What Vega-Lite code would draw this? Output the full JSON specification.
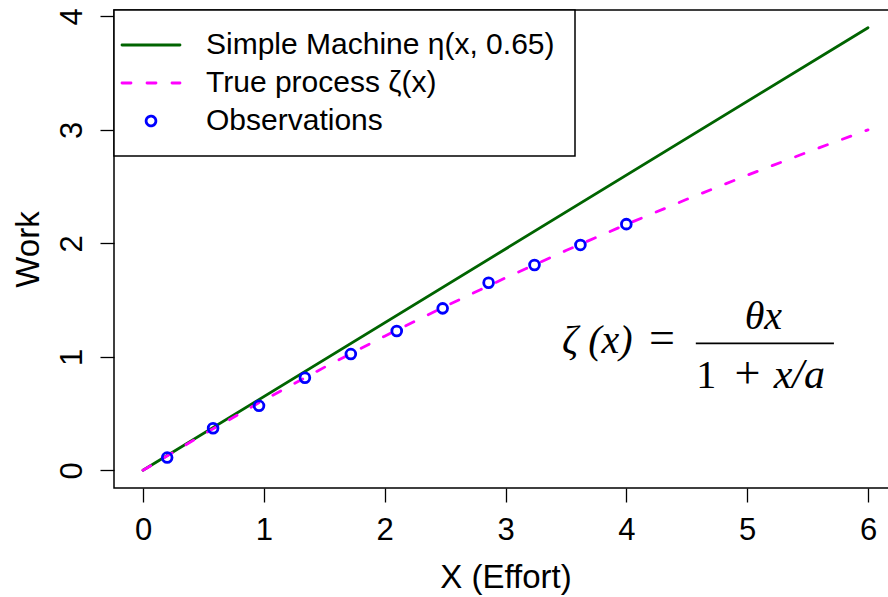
{
  "$schema": "https://vega.github.io/schema/vega-lite/v6.json",
  "width": 783,
  "height": 478,
  "autosize": "none",
  "padding": {"left": 114, "top": 10, "right": 0, "bottom": 109},
  "background": "white",
  "datasets": {
    "eta": [
      {"x": 0, "y": 0, "series": "Simple Machine η(x, 0.65)"},
      {"x": 6, "y": 3.9, "series": "Simple Machine η(x, 0.65)"}
    ],
    "zeta": [
      {"x": 0, "y": 0, "series": "True process ζ(x)"},
      {"x": 0.5, "y": 0.3171, "series": "True process ζ(x)"},
      {"x": 1, "y": 0.619, "series": "True process ζ(x)"},
      {"x": 1.5, "y": 0.907, "series": "True process ζ(x)"},
      {"x": 2, "y": 1.1818, "series": "True process ζ(x)"},
      {"x": 2.5, "y": 1.4444, "series": "True process ζ(x)"},
      {"x": 3, "y": 1.6957, "series": "True process ζ(x)"},
      {"x": 3.5, "y": 1.9362, "series": "True process ζ(x)"},
      {"x": 4, "y": 2.1667, "series": "True process ζ(x)"},
      {"x": 4.5, "y": 2.3878, "series": "True process ζ(x)"},
      {"x": 5, "y": 2.6, "series": "True process ζ(x)"},
      {"x": 5.5, "y": 2.8039, "series": "True process ζ(x)"},
      {"x": 6, "y": 3.0, "series": "True process ζ(x)"}
    ],
    "obs": [
      {"x": 0.2, "y": 0.112, "series": "Observations"},
      {"x": 0.58, "y": 0.371, "series": "Observations"},
      {"x": 0.96, "y": 0.568, "series": "Observations"},
      {"x": 1.34, "y": 0.815, "series": "Observations"},
      {"x": 1.72, "y": 1.024, "series": "Observations"},
      {"x": 2.1, "y": 1.227, "series": "Observations"},
      {"x": 2.48, "y": 1.427, "series": "Observations"},
      {"x": 2.86, "y": 1.653, "series": "Observations"},
      {"x": 3.24, "y": 1.809, "series": "Observations"},
      {"x": 3.62, "y": 1.986, "series": "Observations"},
      {"x": 4.0, "y": 2.169, "series": "Observations"}
    ],
    "one": [{}]
  },
  "layer": [
    {
      "data": {"name": "eta"},
      "mark": {"type": "line", "strokeWidth": 2.8, "strokeCap": "round"},
      "encoding": {
        "x": {"field": "x", "type": "quantitative",
              "scale": {"domain": [-0.24, 6.24], "nice": false, "zero": false},
              "axis": {"title": "X (Effort)", "values": [0, 1, 2, 3, 4, 5, 6], "format": "d", "titleY": 89, "titleBaseline": "middle"}},
        "y": {"field": "y", "type": "quantitative",
              "scale": {"domain": [-0.156, 4.056], "nice": false, "zero": false},
              "axis": {"title": "Work", "values": [0, 1, 2, 3, 4], "format": "d", "labelAngle": -90, "labelAlign": "center", "labelBaseline": "alphabetic", "labelPadding": 19, "titleX": -86, "titleBaseline": "middle", "titleAngle": -90}},
        "color": {"field": "series", "type": "nominal",
                  "scale": {"domain": ["Simple Machine η(x, 0.65)", "True process ζ(x)", "Observations"], "range": ["#006400", "#FF00FF", "#0000FF"]},
                  "legend": {
                    "title": null,
                    "orient": "none", "legendX": 0, "legendY": 0,
                    "padding": 20, "symbolOffset": 2, "labelOffset": 40, "rowPadding": 8,
                    "symbolSize": 400, "symbolStrokeWidth": 2.5,
                    "labelFontSize": 30, "labelLimit": 800, "labelFont": "Liberation Sans", "labelColor": "black",
                    "strokeColor": "black", "fillColor": "white",
                    "encode": {
                      "symbols": {"update": {
                        "shape": {"signal": "datum.value === 'Observations' ? 'circle' : 'M -2.9 0 L 2.9 0'"},
                        "size": {"signal": "datum.value === 'Observations' ? 95 : 400"},
                        "strokeDash": {"signal": "datum.value === 'True process ζ(x)' ? [9, 16] : [1, 0]"},
                        "strokeCap": {"value": "round"},
                        "fill": {"value": "transparent"},
                        "stroke": {"scale": "color", "field": "value"},
                        "strokeWidth": {"value": 2.8}
                      }}
                    }
                  }}
      }
    },
    {
      "data": {"name": "zeta"},
      "mark": {"type": "line", "strokeWidth": 2.8, "strokeDash": [9, 16], "strokeCap": "round"},
      "encoding": {
        "x": {"field": "x", "type": "quantitative"},
        "y": {"field": "y", "type": "quantitative"},
        "color": {"field": "series", "type": "nominal"}
      }
    },
    {
      "data": {"name": "obs"},
      "mark": {"type": "point", "filled": false, "size": 95, "strokeWidth": 2.8, "opacity": 1},
      "encoding": {
        "x": {"field": "x", "type": "quantitative"},
        "y": {"field": "y", "type": "quantitative"},
        "color": {"field": "series", "type": "nominal"}
      }
    },
    {
      "data": {"name": "one"},
      "mark": {"type": "text", "text": "ζ (x)", "font": "Liberation Serif", "fontStyle": "italic", "fontSize": 40, "align": "center", "baseline": "alphabetic", "color": "black"},
      "encoding": {"x": {"datum": 3.76}, "y": {"datum": 1.033}}
    },
    {
      "data": {"name": "one"},
      "mark": {"type": "text", "text": "=", "font": "Liberation Serif", "fontSize": 46, "align": "center", "baseline": "alphabetic", "color": "black"},
      "encoding": {"x": {"datum": 4.294}, "y": {"datum": 1.033}}
    },
    {
      "data": {"name": "one"},
      "mark": {"type": "text", "text": "θx", "font": "Liberation Serif", "fontStyle": "italic", "fontSize": 40, "align": "center", "baseline": "alphabetic", "color": "black"},
      "encoding": {"x": {"datum": 5.134}, "y": {"datum": 1.245}}
    },
    {
      "data": {"name": "one"},
      "mark": {"type": "text", "text": "1", "font": "Liberation Serif", "fontSize": 40, "align": "center", "baseline": "alphabetic", "color": "black"},
      "encoding": {"x": {"datum": 4.662}, "y": {"datum": 0.724}}
    },
    {
      "data": {"name": "one"},
      "mark": {"type": "text", "text": "+", "font": "Liberation Serif", "fontSize": 46, "align": "center", "baseline": "alphabetic", "color": "black"},
      "encoding": {"x": {"datum": 5.002}, "y": {"datum": 0.724}}
    },
    {
      "data": {"name": "one"},
      "mark": {"type": "text", "text": "x/a", "font": "Liberation Serif", "fontStyle": "italic", "fontSize": 42, "align": "center", "baseline": "alphabetic", "color": "black"},
      "encoding": {"x": {"datum": 5.432}, "y": {"datum": 0.724}}
    },
    {
      "data": {"name": "one"},
      "mark": {"type": "rule", "strokeWidth": 1.6, "color": "black"},
      "encoding": {"x": {"datum": 4.575}, "x2": {"datum": 5.718}, "y": {"datum": 1.118}}
    }
  ],
  "config": {
    "view": {"stroke": "black", "strokeWidth": 1.5},
    "font": "Liberation Sans",
    "axis": {
      "grid": false, "domain": false,
      "tickColor": "black", "tickSize": 14, "tickWidth": 1.3,
      "labelFont": "Liberation Sans", "labelFontSize": 31, "labelColor": "black", "labelPadding": 13,
      "titleFont": "Liberation Sans", "titleFontSize": 33, "titleFontWeight": "normal", "titleColor": "black"
    },
    "legend": {"strokeWidth": 1.5}
  }
}
